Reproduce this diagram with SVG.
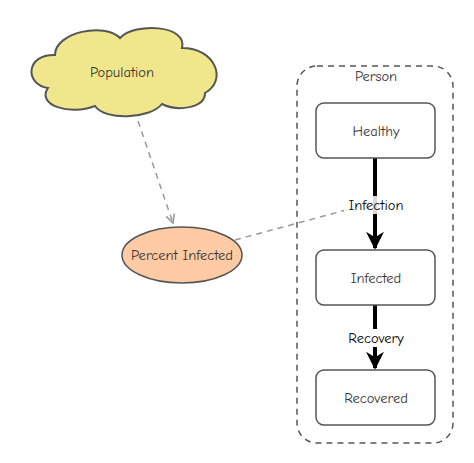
<svg xmlns="http://www.w3.org/2000/svg" width="474" height="463" viewBox="0 0 474 463">
<defs>
<style>
text{font-family:"Comic Sans MS","Comic Neue","DejaVu Sans",sans-serif;font-size:14.5px;fill:#333;text-anchor:middle;dominant-baseline:central}
.box{fill:#fff;stroke:#555;stroke-width:1.5}
.flow{stroke:#000;stroke-width:4;fill:none}
.link{stroke:#999;stroke-width:1.5;stroke-dasharray:6,5;fill:none}
</style>
<marker id="big" viewBox="0 0 10 10" refX="9" refY="5" markerWidth="4.5" markerHeight="4.5" orient="auto" markerUnits="strokeWidth"><path d="M0,0 L10,5 L0,10 L3,5 Z" fill="#000"/></marker>
<marker id="small" viewBox="0 0 10 10" refX="9" refY="5" markerWidth="7" markerHeight="7" orient="auto" markerUnits="strokeWidth"><path d="M1,1 L9,5 L1,9" fill="none" stroke="#999" stroke-width="1.5"/></marker>
</defs>
<rect width="474" height="463" fill="#fff"/>
<g id="person">
<rect x="297" y="66" width="156" height="377" rx="20" fill="none" stroke="#555" stroke-width="1.5" stroke-dasharray="6,5"/>
<text x="376" y="76">Person</text>
</g>
<g id="connectors">
<path class="link" d="M138,121 L173,223" marker-end="url(#small)"/>
<path class="link" d="M235,240 L372,203" marker-end="url(#small)"/>
<path class="flow" d="M375,158 L375,248" marker-end="url(#big)"/>
<path class="flow" d="M375,305 L375,368" marker-end="url(#big)"/>
<rect x="344" y="196" width="62" height="18" fill="#fff" opacity="0.85"/>
<text x="376" y="205" style="fill:#000">Infection</text>
<rect x="344" y="329" width="62" height="18" fill="#fff"/>
<text x="376" y="338" style="fill:#000">Recovery</text>
</g>
<g id="population">
<path d="M55,55 C55,32 105,22 120,38 C135,22 188,25 182,48 C215,48 228,80 205,93 C205,108 178,112 162,104 C150,119 105,121 95,106 C70,116 36,105 48,88 C24,84 26,54 55,55 Z" fill="#F0E68C" stroke="#555" stroke-width="2"/>
<text x="122" y="72">Population</text>
</g>
<g id="percent-infected">
<ellipse cx="182" cy="255" rx="60" ry="28" fill="#FFCBA4" stroke="#555" stroke-width="1.5"/>
<text x="182" y="255">Percent Infected</text>
</g>
<g id="healthy">
<rect class="box" x="316" y="103" width="119" height="55" rx="8"/>
<text x="376" y="131">Healthy</text>
</g>
<g id="infected">
<rect class="box" x="316" y="250" width="119" height="55" rx="8"/>
<text x="376" y="278">Infected</text>
</g>
<g id="recovered">
<rect class="box" x="316" y="370" width="119" height="55" rx="8"/>
<text x="376" y="398">Recovered</text>
</g>
</svg>
